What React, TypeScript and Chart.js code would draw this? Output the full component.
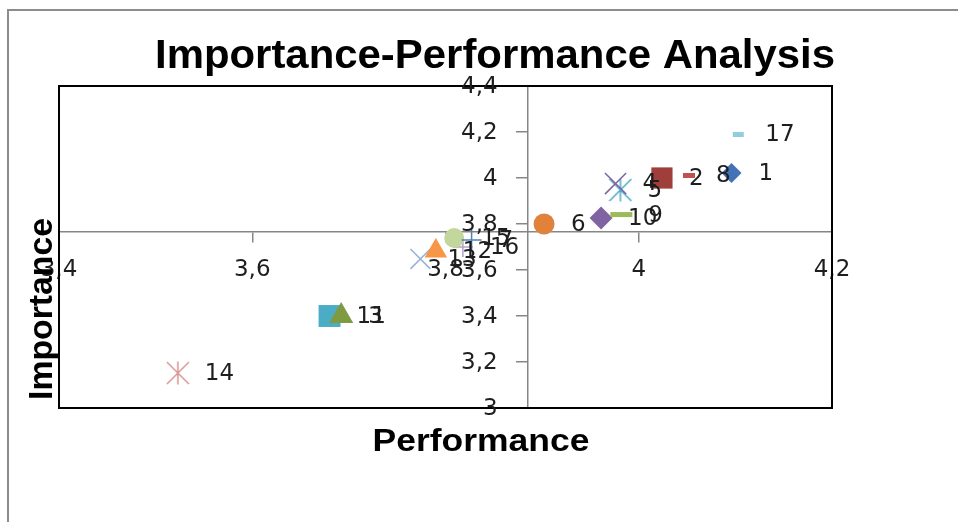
import React, { useEffect, useRef } from 'react';
import { Chart, registerables } from 'chart.js';

Chart.register(...registerables);

// ---- data ----
const pointLabels = ['1', '2', '3', '4', '5', '6', '7', '8', '9', '10', '11', '12', '13', '14', '15', '16', '17'];
const performance = [4.096, 4.024, 3.692, 3.976, 3.981, 3.902, 3.827, 4.052, 3.982, 3.961, 3.680, 3.790, 3.774, 3.523, 3.809, 3.818, 4.103];
const importance = [4.022, 4.0, 3.4, 3.976, 3.948, 3.8, 3.73, 4.011, 3.841, 3.826, 3.4, 3.683, 3.648, 3.152, 3.739, 3.7, 4.189];
const xTicks = [3.4, 3.6, 3.8, 4, 4.2];
const yTicks = [3, 3.2, 3.4, 3.6, 3.8, 4, 4.2, 4.4];
const performanceCross = 3.885;
const importanceCross = 3.765;
const chartTitle = 'Importance-Performance Analysis';
const xTitle = 'Performance';
const yTitle = 'Importance';

// ---- styles ----
type Marker = { shape: string; r?: number; size?: number; color: string; lw?: number };
const markerStyles: Marker[] = [
  { shape: 'rectRot', r: 10, color: '#4472B6' },
  { shape: 'rect', r: 15, color: '#A03E3B' },
  { shape: 'triangle', r: 14, color: '#7F9A41' },
  { shape: 'crossRot', r: 15, color: '#8064A2', lw: 1.5 },
  { shape: 'star', size: 24, color: '#4BACC6', lw: 1.5 },
  { shape: 'circle', r: 10.5, color: '#E0823A' },
  { shape: 'cross', r: 10, color: '#4F81BD', lw: 1.5 },
  { shape: 'line', r: 6, color: '#C0504D', lw: 5 },
  { shape: 'line', r: 11, color: '#9BBB59', lw: 5 },
  { shape: 'rectRot', r: 11.5, color: '#8064A2' },
  { shape: 'rect', r: 15.5, color: '#4BACC6' },
  { shape: 'triangle', r: 13, color: '#F79646' },
  { shape: 'crossRot', r: 14, color: '#95B3D7', lw: 1.5 },
  { shape: 'star', size: 24, color: '#D99694', lw: 1.5 },
  { shape: 'circle', r: 10, color: '#C3D69B' },
  { shape: 'cross', r: 10, color: '#B3A2C7', lw: 1.5 },
  { shape: 'line', r: 5.5, color: '#93CDDD', lw: 5 },
];

const W = 958;
const H = 522;
const labelFont = '23px "DejaVu Sans"';
const textColor = '#1e1e1e';
const axisColor = '#868686';

function fmt(v: number) {
  return String(v).replace('.', ',');
}

function makeStar(color: string, size: number, lw: number) {
  const c = document.createElement('canvas');
  c.width = size;
  c.height = size;
  const g = c.getContext('2d')!;
  g.strokeStyle = color;
  g.lineWidth = lw;
  const m = size / 2;
  const a = size / 2 - 1;
  g.beginPath();
  g.moveTo(m - a, m - a);
  g.lineTo(m + a, m + a);
  g.moveTo(m + a, m - a);
  g.lineTo(m - a, m + a);
  g.moveTo(m, 0.5);
  g.lineTo(m, size - 0.5);
  g.stroke();
  return c;
}

function drawStretched(
  ctx: CanvasRenderingContext2D,
  text: string,
  x: number,
  y: number,
  font: string,
  width: number,
  rotate: boolean
) {
  ctx.save();
  ctx.font = font;
  const w = ctx.measureText(text).width;
  ctx.translate(x, y);
  if (rotate) ctx.rotate(-Math.PI / 2);
  ctx.scale(width / w, 1);
  ctx.textAlign = 'center';
  ctx.textBaseline = 'alphabetic';
  ctx.fillStyle = '#000';
  ctx.fillText(text, 0, 0);
  ctx.restore();
}

const decorPlugin = {
  id: 'decor',
  beforeDraw(chart: any) {
    const ctx = chart.ctx as CanvasRenderingContext2D;
    ctx.save();
    ctx.strokeStyle = '#8c8c8c';
    ctx.lineWidth = 2;
    ctx.strokeRect(8, 10, chart.width + 40, chart.height + 40);
    ctx.restore();
  },
  beforeDatasetsDraw(chart: any) {
    const ctx = chart.ctx as CanvasRenderingContext2D;
    const a = chart.chartArea;
    ctx.save();
    ctx.strokeStyle = '#000';
    ctx.lineWidth = 2;
    ctx.strokeRect(a.left, a.top, a.right - a.left, a.bottom - a.top);
    ctx.restore();
  },
  afterDatasetsDraw(chart: any) {
    const ctx = chart.ctx as CanvasRenderingContext2D;
    ctx.save();
    ctx.font = labelFont;
    ctx.fillStyle = textColor;
    ctx.textAlign = 'left';
    ctx.textBaseline = 'middle';
    chart.data.datasets.forEach((ds: any, i: number) => {
      const el = chart.getDatasetMeta(i).data[0];
      if (!el) return;
      ctx.fillText(ds.label, el.x + 27, el.y + 1);
    });
    ctx.restore();
  },
  afterDraw(chart: any) {
    const ctx = chart.ctx as CanvasRenderingContext2D;
    const xs = chart.scales.x;
    const ys = chart.scales.y;
    const axisX = xs.getPixelForValue(performanceCross);
    ctx.save();
    ctx.font = labelFont;
    ctx.fillStyle = textColor;
    ctx.textAlign = 'right';
    ctx.textBaseline = 'middle';
    ys.ticks.forEach((t: any) => {
      ctx.fillText(fmt(t.value), axisX - 30, ys.getPixelForValue(t.value) + 1);
    });
    ctx.restore();

    drawStretched(ctx, chartTitle, 495, 68, 'bold 40px "Liberation Sans", Arial, sans-serif', 680, false);
    drawStretched(ctx, xTitle, 481, 451, 'bold 31px "Liberation Sans", Arial, sans-serif', 217, false);
    drawStretched(ctx, yTitle, 52, 309, 'bold 34px "Liberation Sans", Arial, sans-serif', 182, true);
  },
};

export default function App() {
  const ref = useRef<HTMLCanvasElement | null>(null);

  useEffect(() => {
    if (!ref.current) return;
    const datasets = pointLabels.map((lab, i) => {
      const m = markerStyles[i];
      const filled = !m.lw;
      const style: any = m.shape === 'star' ? makeStar(m.color, m.size || 24, m.lw || 1.5) : m.shape;
      return {
        label: lab,
        data: [{ x: performance[i], y: importance[i] }],
        pointStyle: style,
        pointRadius: m.r || 12,
        pointHoverRadius: m.r || 12,
        pointBackgroundColor: m.color,
        pointBorderColor: m.color,
        pointBorderWidth: filled ? 0 : m.lw,
        showLine: false,
      };
    });

    const chart = new Chart(ref.current, {
      type: 'scatter',
      data: { datasets },
      plugins: [decorPlugin],
      options: {
        animation: false,
        responsive: false,
        maintainAspectRatio: false,
        events: [],
        layout: { padding: { left: 59, top: 86, right: W - 832, bottom: H - 408 } },
        plugins: {
          legend: { display: false },
          tooltip: { enabled: false },
          title: { display: false },
        },
        scales: {
          x: {
            type: 'linear',
            min: 3.4,
            max: 4.2,
            position: { y: importanceCross } as any,
            afterBuildTicks: (s: any) => {
              s.ticks = xTicks.map((v) => ({ value: v }));
            },
            ticks: {
              callback: (v: any) => fmt(Number(v)),
              font: { family: 'DejaVu Sans', size: 23 },
              color: textColor,
              padding: 14,
              maxRotation: 0,
              autoSkip: false,
            },
            grid: { drawOnChartArea: false, drawTicks: true, tickLength: 10, color: axisColor, lineWidth: 1.5 },
            border: { display: true, color: axisColor, width: 1.5 },
          },
          y: {
            type: 'linear',
            min: 3,
            max: 4.4,
            position: { x: performanceCross } as any,
            afterBuildTicks: (s: any) => {
              s.ticks = yTicks.map((v) => ({ value: v }));
            },
            ticks: {
              callback: (v: any) => fmt(Number(v)),
              font: { family: 'DejaVu Sans', size: 23 },
              color: 'rgba(0,0,0,0)',
              autoSkip: false,
            },
            grid: { drawOnChartArea: false, drawTicks: true, tickLength: 11, color: axisColor, lineWidth: 1.5 },
            border: { display: true, color: axisColor, width: 1.5 },
          },
        },
      } as any,
    });
    return () => chart.destroy();
  }, []);

  return (
    <div style={{ position: 'fixed', left: 0, top: 0, width: W, height: H, overflow: 'hidden', background: '#fff' }}>
      <canvas ref={ref} width={W} height={H} style={{ display: 'block', width: W, height: H }} />
    </div>
  );
}
